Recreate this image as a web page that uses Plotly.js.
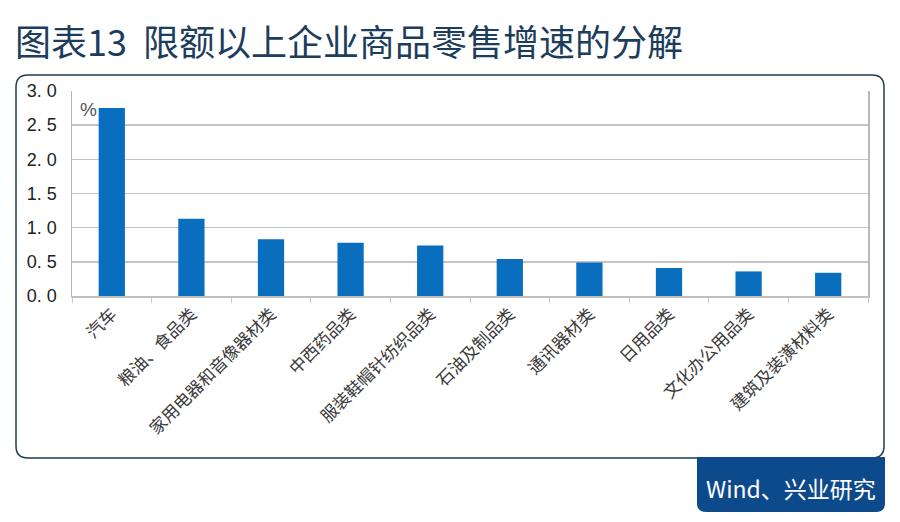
<!DOCTYPE html>
<html>
<head>
<meta charset="utf-8">
<script src="https://cdn.plot.ly/plotly-3.0.1.min.js"></script>
<style>html,body{margin:0;padding:0;background:#fff;}#chart{width:900px;height:522px;}</style>
</head>
<body>
<div id="chart"></div>
<script>
const categories = ["汽车","粮油、食品类","家用电器和音像器材类","中西药品类","服装鞋帽针纺织品类","石油及制品类","通讯器材类","日用品类","文化办公用品类","建筑及装潢材料类"];
const growthContribution = [2.75, 1.13, 0.83, 0.78, 0.74, 0.54, 0.49, 0.41, 0.36, 0.34];
const yTickValues = [0, 0.5, 1.0, 1.5, 2.0, 2.5, 3.0];
const yTickLabels = ["0. 0","0. 5","1. 0","1. 5","2. 0","2. 5","3. 0"];
const titleText = "图表13  限额以上企业商品零售增速的分解";
const sourceText = "Wind、兴业研究";
const unitText = "%";

const W = 900, H = 522;
const mL = 72, mR = 32, mT = 91, mB = 226;
const pw = W - mL - mR, ph = H - mT - mB;
const px = x => (x - mL) / pw;
const py = y => (H - mB - y) / ph;

function roundRect(x0, y0, x1, y1, r, corners) {
  const [tl, tr, br, bl] = corners;
  let d = '';
  d += 'M' + px(x0 + (tl ? r : 0)) + ',' + py(y0);
  d += ' L' + px(x1 - (tr ? r : 0)) + ',' + py(y0);
  if (tr) d += ' Q' + px(x1) + ',' + py(y0) + ' ' + px(x1) + ',' + py(y0 + r);
  d += ' L' + px(x1) + ',' + py(y1 - (br ? r : 0));
  if (br) d += ' Q' + px(x1) + ',' + py(y1) + ' ' + px(x1 - r) + ',' + py(y1);
  d += ' L' + px(x0 + (bl ? r : 0)) + ',' + py(y1);
  if (bl) d += ' Q' + px(x0) + ',' + py(y1) + ' ' + px(x0) + ',' + py(y1 - r);
  d += ' L' + px(x0) + ',' + py(y0 + (tl ? r : 0));
  if (tl) d += ' Q' + px(x0) + ',' + py(y0) + ' ' + px(x0 + r) + ',' + py(y0);
  d += ' Z';
  return d;
}

const data = [{
  type: 'bar',
  x: categories,
  y: growthContribution,
  marker: {color: '#0a6ebf'},
  hoverinfo: 'x+y'
}];

const layout = {
  width: W, height: H,
  margin: {l: mL, r: mR, t: mT, b: mB, pad: 0},
  paper_bgcolor: '#ffffff',
  plot_bgcolor: 'rgba(0,0,0,0)',
  showlegend: false,
  bargap: 0.67,
  title: {
    text: titleText,
    xref: 'container', yref: 'container',
    x: 15 / W, xanchor: 'left',
    y: 1 - 43 / H, yanchor: 'middle',
    font: {family: '"Noto Sans CJK SC", sans-serif', size: 36, color: '#1c3d5c'}
  },
  xaxis: {
    type: 'category',
    tickangle: -45,
    tickson: 'boundaries',
    ticks: 'outside', ticklen: 5, tickcolor: '#c8c8c8', tickwidth: 1,
    showline: true, linecolor: '#c0c0c0', linewidth: 1.5,
    showgrid: false,
    tickfont: {family: '"Noto Sans CJK SC", sans-serif', size: 17, color: '#3a3a3a'},
    fixedrange: true
  },
  yaxis: {
    range: [0, 3],
    tickvals: yTickValues,
    ticktext: yTickLabels,
    showgrid: true, gridcolor: '#c4c4c4', gridwidth: 1.5,
    showline: true, mirror: true, linecolor: '#b8b8b8', linewidth: 1.5,
    zeroline: false,
    ticks: '', ticklen: 0,
    ticklabelstandoff: 10,
    tickfont: {family: '"Liberation Sans", Arial, sans-serif', size: 18, color: '#222222'},
    fixedrange: true
  },
  annotations: [
    {
      text: unitText, xref: 'paper', yref: 'paper',
      x: px(88), y: py(109), xanchor: 'center', yanchor: 'middle',
      showarrow: false,
      font: {family: '"Liberation Sans", Arial, sans-serif', size: 19, color: '#555555'}
    },
    {
      text: sourceText, xref: 'paper', yref: 'paper',
      x: px(791), y: py(488), xanchor: 'center', yanchor: 'middle',
      showarrow: false,
      font: {family: '"Noto Sans CJK SC", sans-serif', size: 23, color: '#ffffff'}
    }
  ],
  shapes: [
    {
      type: 'path', xref: 'paper', yref: 'paper', layer: 'below',
      path: roundRect(16, 75, 884, 458, 12, [true, true, true, true]),
      line: {color: '#1e3d4f', width: 1.5},
      fillcolor: 'rgba(0,0,0,0)'
    },
    {
      type: 'path', xref: 'paper', yref: 'paper', layer: 'above',
      path: roundRect(697, 457, 885, 512, 9, [false, false, true, true]),
      line: {color: '#0d4a8c', width: 0},
      fillcolor: '#0d4a8c'
    }
  ]
};

Plotly.newPlot('chart', data, layout, {displayModeBar: false, staticPlot: true});
</script>
</body>
</html>
